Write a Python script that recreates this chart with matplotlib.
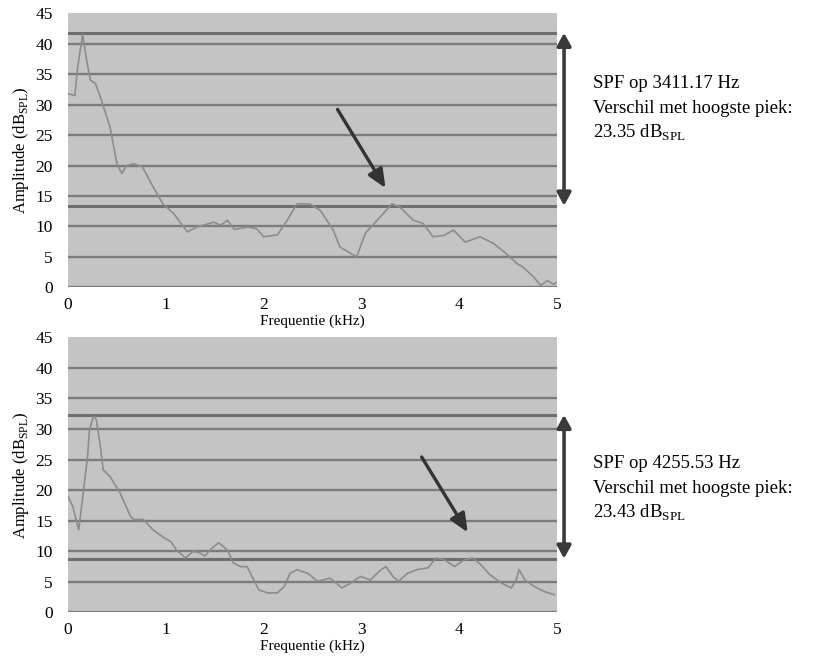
# Recreate the two SPF spectrum panels.
import matplotlib
matplotlib.use('Agg')
import matplotlib.pyplot as plt

plt.rcParams['font.family'] = ['Liberation Serif', 'DejaVu Serif']
plt.rcParams['mathtext.fontset'] = 'custom'
plt.rcParams['mathtext.rm'] = 'Liberation Serif'

# Top spectrum (kHz, dB SPL).
top_freq = [0.0, 0.07, 0.1, 0.15, 0.19, 0.23, 0.28, 0.33, 0.43, 0.5, 0.55, 0.6,
            0.67, 0.76, 0.87, 0.97, 1.08, 1.22, 1.32, 1.49, 1.56, 1.63, 1.7, 1.84,
            1.93, 2.0, 2.14, 2.24, 2.34, 2.47, 2.58, 2.71, 2.78, 2.95, 3.04, 3.16,
            3.31, 3.39, 3.53, 3.63, 3.73, 3.84, 3.94, 4.06, 4.21, 4.35, 4.48, 4.59,
            4.65, 4.76, 4.83, 4.9, 4.96, 5.0]
top_amp = [31.8, 31.5, 36.2, 41.6, 37.3, 34.0, 33.5, 31.3, 26.3, 20.3, 18.7, 20.0,
           20.3, 19.8, 16.5, 13.7, 12.1, 9.1, 9.9, 10.7, 10.2, 11.0, 9.5, 9.9,
           9.6, 8.3, 8.6, 11.0, 13.7, 13.7, 12.6, 9.4, 6.6, 5.0, 8.9, 11.0,
           13.7, 13.2, 11.0, 10.5, 8.3, 8.5, 9.4, 7.4, 8.3, 7.2, 5.5, 3.9,
           3.3, 1.7, 0.3, 1.1, 0.5, 0.8]

# Bottom spectrum (kHz, dB SPL).
bot_freq = [0.0, 0.05, 0.11, 0.16, 0.2, 0.22, 0.26, 0.29, 0.33, 0.36, 0.43, 0.53,
            0.64, 0.67, 0.77, 0.87, 0.98, 1.05, 1.11, 1.2, 1.28, 1.35, 1.4, 1.45,
            1.54, 1.63, 1.69, 1.76, 1.83, 1.9, 1.95, 2.04, 2.14, 2.21, 2.27, 2.34,
            2.45, 2.55, 2.68, 2.8, 2.89, 2.99, 3.09, 3.2, 3.25, 3.32, 3.38, 3.47,
            3.57, 3.68, 3.76, 3.85, 3.95, 4.05, 4.14, 4.22, 4.31, 4.43, 4.53, 4.58,
            4.61, 4.67, 4.77, 4.87, 4.97]
bot_amp = [19.0, 17.3, 13.5, 20.1, 25.5, 29.9, 32.1, 31.5, 27.2, 23.3, 22.2, 19.6,
           15.7, 15.2, 15.2, 13.5, 12.2, 11.6, 10.2, 8.9, 10.0, 9.7, 9.2, 10.2,
           11.4, 10.2, 8.1, 7.5, 7.5, 5.3, 3.7, 3.2, 3.2, 4.2, 6.4, 7.0,
           6.4, 5.1, 5.6, 4.0, 4.8, 5.9, 5.3, 7.0, 7.5, 5.9, 5.1, 6.4,
           7.0, 7.3, 8.9, 8.6, 7.5, 8.6, 8.9, 7.8, 6.2, 4.8, 4.0, 5.3,
           7.0, 5.3, 4.2, 3.4, 2.9]

# Reference levels (highest peak and SPF level) and arrows.
top_levels = [41.8, 13.4]
bot_levels = [32.3, 8.8]
top_pointer = [(2.74, 29.6), (3.26, 15.9)]
bot_pointer = [(3.6, 25.8), (4.1, 12.7)]
top_text = ['SPF op 3411.17 Hz', 'Verschil met hoogste piek:', '23.35 dB$_{\\mathrm{SPL}}$']
bot_text = ['SPF op 4255.53 Hz', 'Verschil met hoogste piek:', '23.43 dB$_{\\mathrm{SPL}}$']

yticks = [0, 5, 10, 15, 20, 25, 30, 35, 40, 45]
xticks = [0, 1, 2, 3, 4, 5]

fig = plt.figure(figsize=(8.25, 6.65), dpi=100)
ax_top = fig.add_axes([0.0824, 0.568, 0.593, 0.412])
ax_bot = fig.add_axes([0.0824, 0.079, 0.593, 0.414])


def draw_panel(ax, freq, amp, levels, pointer, lines, text_y):
    ax.set_facecolor('#c4c4c4')
    for v in yticks[:-1]:
        ax.axhline(v, color='#7c7c7c', lw=1.7, zorder=1)
    for v in levels:
        ax.axhline(v, color='#6e6e6e', lw=2.2, zorder=1)
    ax.plot(freq, amp, color='#8c8c8c', lw=1.2, zorder=2)
    ax.set_xlim(0, 5)
    ax.set_ylim(0, 45)
    ax.set_xticks(xticks)
    ax.set_yticks(yticks)
    ax.tick_params(length=0, labelsize=12.5)
    ax.tick_params(axis='y', pad=11)
    ax.tick_params(axis='x', pad=7)
    for s in ax.spines.values():
        s.set_visible(False)
    ax.set_xlabel('Frequentie (kHz)', fontsize=11, labelpad=1)
    ax.set_ylabel('Amplitude (dB$_{\\mathrm{SPL}}$)', fontsize=12, labelpad=3)

    # Diagonal arrow pointing at the SPF.
    ax.annotate('', xy=pointer[1], xytext=pointer[0],
                arrowprops=dict(arrowstyle='-|>,head_length=0.8,head_width=0.35',
                                color='#333333', lw=2.4, mutation_scale=14), zorder=3)
    # Double arrow spanning the level difference.
    ax.annotate('', xy=(5.07, levels[0]), xytext=(5.07, levels[1]),
                arrowprops=dict(arrowstyle='<|-|>,head_length=0.55,head_width=0.3',
                                color='#3a3a3a', lw=2.6, mutation_scale=14,
                                shrinkA=0, shrinkB=0),
                annotation_clip=False)

    for i, t in enumerate(lines):
        fig.text(0.719, text_y - i * 0.0376, t, fontsize=13.5, va='center', ha='left')


draw_panel(ax_top, top_freq, top_amp, top_levels, top_pointer, top_text, 1 - 83 / 665)
draw_panel(ax_bot, bot_freq, bot_amp, bot_levels, bot_pointer, bot_text, 1 - 463 / 665)

fig.savefig('out.png', dpi=100)
